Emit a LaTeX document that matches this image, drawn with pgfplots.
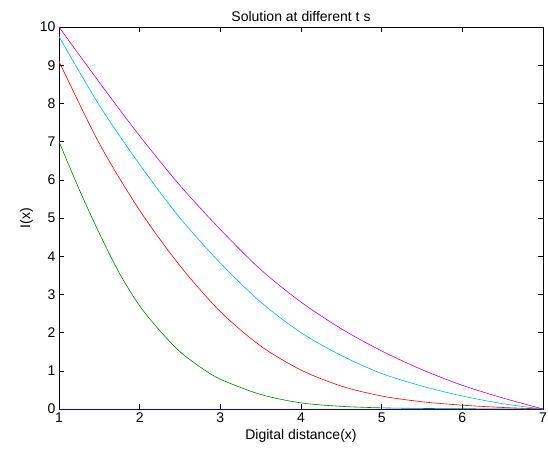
\documentclass[border=0pt]{standalone}
\usepackage{fontspec}
\setmainfont{Liberation Sans}
\usepackage{pgfplots}
\pgfplotsset{compat=1.18}

\definecolor{mblue}{rgb}{0,0,1}
\definecolor{mgreen}{rgb}{0,0.5,0}
\definecolor{mred}{rgb}{1,0,0}
\definecolor{mcyan}{rgb}{0,0.75,0.75}
\definecolor{mmagenta}{rgb}{0.75,0,0.75}

\begin{document}
\begin{tikzpicture}
\useasboundingbox (-59pt,-47pt) rectangle (489pt,409pt);
\begin{axis}[
  width=484pt, height=382pt, scale only axis,
  xmin=1, xmax=7, ymin=0, ymax=10,
  xtick={1,2,3,4,5,6,7}, ytick={0,1,2,3,4,5,6,7,8,9,10},
  tick align=inside, major tick length=5pt,
  tick style={black, line width=0.6pt},
  axis line style={line width=0.7pt},
  /pgf/number format/assume math mode=true,
  tick label style={font=\fontsize{14}{16}\selectfont},
  label style={font=\fontsize{14}{16}\selectfont},
  title style={font=\fontsize{14}{16}\selectfont, yshift=-4pt},
  title={Solution at different t s},
  xlabel={Digital distance(x)},
  ylabel={I(x)},
  every axis plot/.append style={line width=0.6pt, smooth, no marks},
]
\addplot[mblue] coordinates {(1,0) (2,0) (3,0) (4,0) (5,0) (6,0) (7,0)};
\addplot[mgreen] coordinates {
  (1,7.0) (1.25,5.75) (1.5,4.6) (1.75,3.55) (2,2.7) (2.25,2.05) (2.5,1.5)
  (2.75,1.1) (3,0.78) (3.5,0.38) (4,0.16) (4.5,0.07) (5,0.03) (5.5,0.015)
  (6,0.007) (6.5,0.003) (7,0)
};
\addplot[mred] coordinates {
  (1,9.1) (1.5,6.95) (2,5.2) (2.5,3.75) (3,2.55) (3.5,1.65) (4,1.02)
  (4.5,0.6) (5,0.34) (5.5,0.19) (6,0.1) (6.5,0.04) (7,0)
};
\addplot[mcyan] coordinates {
  (1,9.75) (1.5,7.95) (2,6.4) (2.5,5.0) (3,3.82) (3.5,2.8) (4,2.0)
  (4.5,1.4) (5,0.93) (5.5,0.6) (6,0.34) (6.5,0.14) (7,0)
};
\addplot[mmagenta] coordinates {
  (1,10) (1.5,8.55) (2,7.15) (2.5,5.85) (3,4.7) (3.5,3.65) (4,2.8)
  (4.5,2.1) (5,1.52) (5.5,1.03) (6,0.62) (6.5,0.29) (7,0)
};
\end{axis}
\end{tikzpicture}
\end{document}
